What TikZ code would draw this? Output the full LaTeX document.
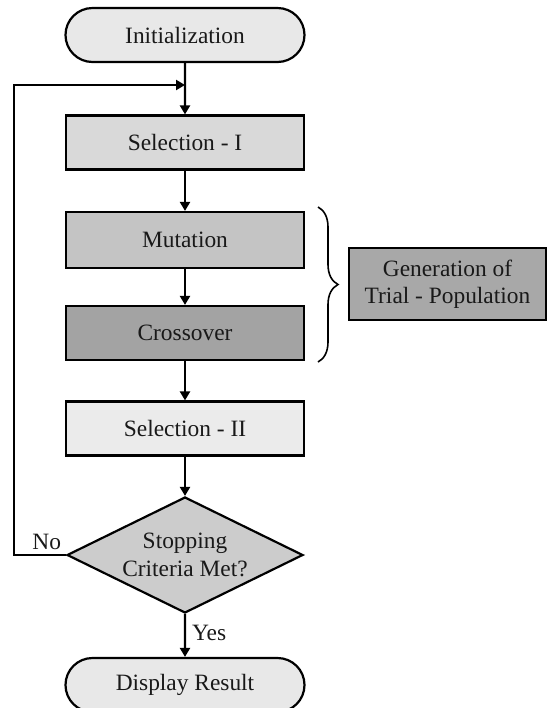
\documentclass[tikz,border=0pt]{standalone}
\usepackage{fontspec}
\setmainfont{Liberation Serif}
\usepackage{tikz}
\usetikzlibrary{shapes.misc,shapes.geometric,arrows.meta,decorations.pathreplacing}

\begin{document}
\begin{tikzpicture}
  [x=0.5pt,y=-0.5pt,line width=1.1pt,
   every node/.style={draw,text=black!90,font=\fontsize{11.7}{13.7}\selectfont,align=center},
   box/.style={rectangle,minimum width=119pt,minimum height=27pt,inner sep=0pt},
   term/.style={rounded rectangle,minimum width=119.5pt,minimum height=27pt,inner sep=0pt,fill=black!9},
   arr/.style={-{Triangle[length=4.5pt,width=5pt]}}]
  \useasboundingbox (0,0) rectangle (547,708);

  \node[term] (init) at (185,35) {Initialization};
  \node[box,fill=black!15] (sel1) at (185,142.5) {Selection - I};
  \node[box,fill=black!23,minimum height=28pt] (mut) at (185,240) {Mutation};
  \node[box,fill=black!36] (cross) at (185,333) {Crossover};
  \node[box,fill=black!8] (sel2) at (185,428.5) {Selection - II};
  \node[diamond,aspect=2,inner sep=0pt,minimum width=118pt,minimum height=58pt,fill=black!20] (stop) at (185,555) {Stopping\\Criteria Met?};
  \node[term] (disp) at (185,685) {Display Result};
  \node[box,minimum width=98.5pt,minimum height=36pt,fill=black!34] (gen) at (447.5,284) {Generation of\\Trial - Population};

  \coordinate (join) at (185,85);

  \foreach \from/\to in {init/sel1,sel1/mut,mut/cross,cross/sel2,sel2/stop}
    \draw[arr] (\from) -- (\to);
  \draw[arr] (stop) -- node[draw=none,right,inner sep=3pt,pos=0.45] {Yes} (disp);
  \draw[arr] (stop.west) -- node[draw=none,above,inner sep=2pt,pos=0.37] {No} ++(-52,0) |- (join);

  % brace round mutation and crossover
  \draw[decorate,decoration={brace,amplitude=10pt},line width=0.8pt] (318,207) -- (318,362);
\end{tikzpicture}
\end{document}
